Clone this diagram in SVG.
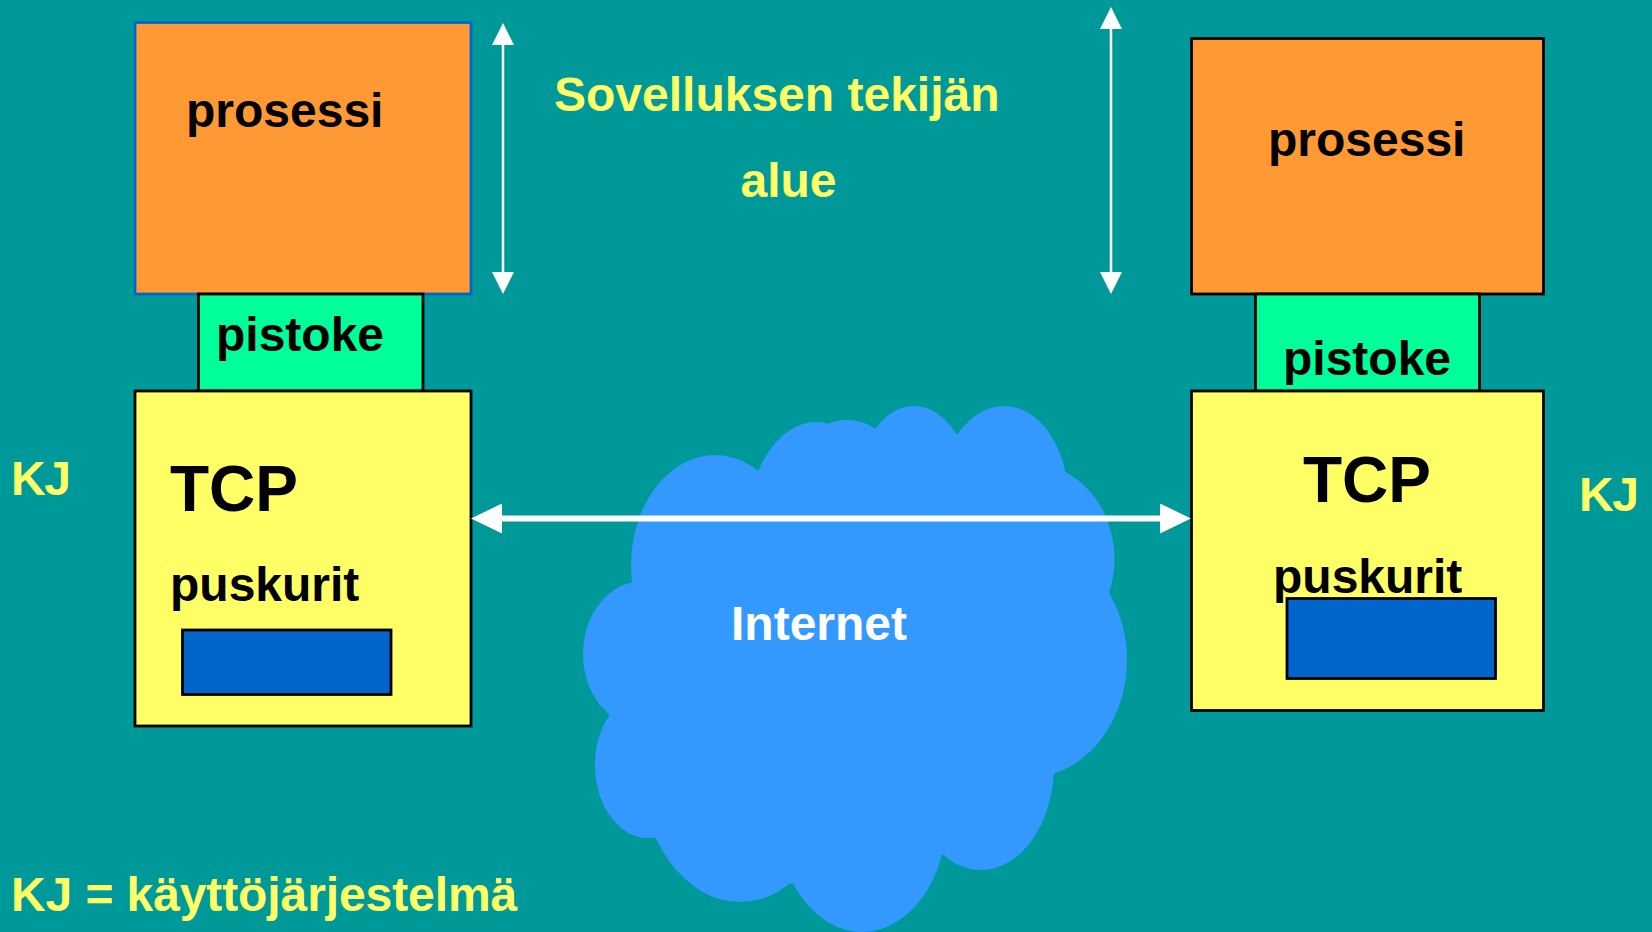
<svg xmlns="http://www.w3.org/2000/svg" width="1652" height="932" viewBox="0 0 1652 932">
<style>
text{font-family:"Liberation Sans",Arial,sans-serif;font-weight:bold;font-size:48px}
.k{fill:#000}.y{fill:#FFFF66}.w{fill:#fff}
.box{stroke:#000;stroke-width:2.800}
.or{fill:#FF9933}.gr{fill:#00FF99}.ye{fill:#FFFF66}.bl{fill:#0066CC}
.conn{stroke:#fff;fill:none}
</style>
<defs>
<marker id="a" markerUnits="userSpaceOnUse" markerWidth="22" markerHeight="22" refX="12" refY="11" orient="auto-start-reverse"><path d="M0 0L22 11L0 22Z" fill="#fff"/></marker>
<marker id="b" markerUnits="userSpaceOnUse" markerWidth="31" markerHeight="30" refX="21" refY="15" orient="auto-start-reverse"><path d="M0 0L31 15L0 30Z" fill="#fff"/></marker>
</defs>
<rect width="1652" height="932" fill="#009999"/>
<g id="cloud">
<g fill="#3399FF">
<polygon points="759,469.5 831,423 875,429 958,434 1065,472 1110,594 1054,774 942,855 790,884 656,838 609,717 632,582"/>
<ellipse cx="715" cy="566" rx="84" ry="111"/>
<ellipse cx="816" cy="535" rx="70" ry="113"/>
<ellipse cx="847" cy="451" rx="40" ry="31"/>
<ellipse cx="914" cy="502" rx="60" ry="96"/>
<ellipse cx="1004" cy="498" rx="64" ry="92"/>
<ellipse cx="1029.500" cy="559" rx="85" ry="96"/>
<ellipse cx="1027" cy="660" rx="100" ry="118"/>
<ellipse cx="981" cy="765" rx="73" ry="105"/>
<ellipse cx="862" cy="815" rx="85" ry="117"/>
<ellipse cx="740" cy="763" rx="100" ry="139"/>
<ellipse cx="648" cy="765" rx="53" ry="73"/>
<ellipse cx="643" cy="654" rx="60" ry="73"/>
</g>
<text class="w" x="731" y="640">Internet</text></g>
<g id="proc-left"><rect x="135" y="22.500" width="336" height="271.500" class="or" stroke="#0066CC" stroke-width="2.800"/><text class="k" x="186" y="127">prosessi</text></g>
<g id="socket-left"><rect x="198.500" y="294" width="224.500" height="97" class="gr box"/><text class="k" x="216" y="351">pistoke</text></g>
<g id="tcp-left"><rect x="135" y="391" width="336" height="335" class="ye box"/><text class="k" x="170" y="511" style="font-size:64px">TCP</text><text class="k" x="170" y="601">puskurit</text><rect x="182.500" y="630" width="208.500" height="64.500" class="bl box"/></g>
<g id="proc-right"><rect x="1191.500" y="38.500" width="352" height="255.500" class="or box"/><text class="k" x="1268" y="155.500">prosessi</text></g>
<g id="socket-right"><rect x="1255.500" y="294" width="224" height="97" class="gr box"/><text class="k" x="1283" y="375">pistoke</text></g>
<g id="tcp-right"><rect x="1191.500" y="391" width="352" height="319.500" class="ye box"/><text class="k" x="1303" y="502" style="font-size:64px">TCP</text><text class="k" x="1273" y="593">puskurit</text><rect x="1287" y="598.500" width="208.500" height="80" class="bl box"/></g>
<g id="labels"><text class="y" x="554" y="111">Sovelluksen tekijän</text><text class="y" x="740.500" y="197">alue</text><text class="y" x="11" y="495" letter-spacing="-1.500">KJ</text><text class="y" x="1579" y="511" letter-spacing="-1.500">KJ</text><text class="y" x="11" y="911" letter-spacing="-0.100">KJ = käyttöjärjestelmä</text></g>
<g id="connectors" class="conn"><line x1="503" y1="33" x2="503" y2="284" stroke-width="2.500" marker-start="url(#a)" marker-end="url(#a)"/><line x1="1111" y1="17" x2="1111" y2="284" stroke-width="2.500" marker-start="url(#a)" marker-end="url(#a)"/><line x1="481" y1="518.500" x2="1181" y2="518.500" stroke-width="6" marker-start="url(#b)" marker-end="url(#b)"/></g>
</svg>
